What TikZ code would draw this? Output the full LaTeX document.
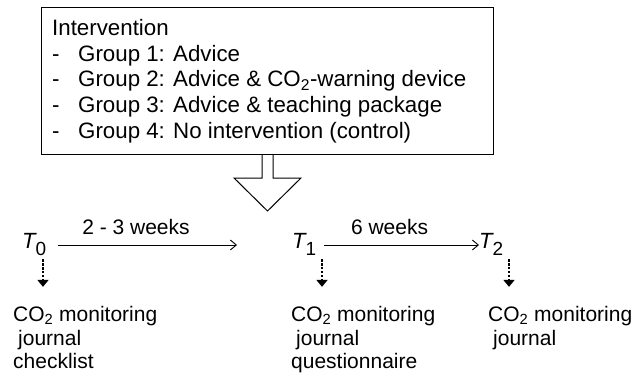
\documentclass[tikz,border=0pt]{standalone}
\usepackage{fontspec}
\setmainfont{Liberation Sans}
\usetikzlibrary{arrows.meta,positioning}

\begin{document}
\begin{tikzpicture}[x=1pt,y=-1pt,
  txt/.style={inner sep=0pt,font=\fontsize{21}{25.7}\selectfont},
  btxt/.style={inner sep=0pt,anchor=base west,font=\fontsize{22.3}{25.7}\selectfont},
  mtxt/.style={inner sep=0pt,anchor=base west,font=\fontsize{21}{23.5}\selectfont},
  tlbl/.style={inner sep=0pt,anchor=base west},
  tarr/.style={-{Straight Barb[length=6pt,width=10pt]},line width=0.9pt},
  dotarr/.style={-{Triangle[length=7pt,width=11pt]},line width=2.4pt,dash pattern=on 2.4pt off 1.5pt}]
\useasboundingbox (0,0) rectangle (644,374);
% Intervention box
\node[draw,line width=1pt,minimum width=452pt,minimum height=147pt,anchor=north west,inner sep=0pt] (box) at (41,7) {};
\node[btxt] (intv) at (52,35.5) {Intervention};
\foreach \i/\txt in {1/Advice,2/{Advice \& CO\textsubscript{2}-warning device},3/{Advice \& teaching package},4/{No intervention (control)}} {
  \node[btxt] (d\i) at (52,{35.5+25.7*\i}) {-};
  \node[btxt] (g\i) at (78,{35.5+25.7*\i}) {Group \i: \txt};
}
% Block arrow down
\draw[line width=1pt] (box.south) +(-5.5,0) -- +(-5.5,23) -- +(-33.5,23) -- +(0,56) -- +(33.5,23) -- +(5.5,23) -- +(5.5,0);
% Time points
\foreach \i/\x in {0/22,1/292,2/479}
  \node[tlbl] (T\i) at (\x,248) {{\fontsize{22}{22}\selectfont\itshape T}\raisebox{-7.5pt}{\fontsize{19}{19}\selectfont\i}};
\coordinate (e1) at (237,245);
\draw[tarr,shorten <=12pt] (T0.east |- e1) -- node[txt,above=10pt,pos=.47] {2 - 3 weeks} (e1);
\draw[tarr,shorten <=8pt] (T1.east |- e1) -- node[txt,above=10pt,pos=.45] {6 weeks} (T2.west |- e1);
% Measurements
\node[mtxt] (m0) at (13,321.5) {\begin{tabular}[t]{@{}l@{}}CO\textsubscript{2} monitoring\\\hspace*{5pt}journal\\checklist\end{tabular}};
\node[mtxt] (m1) at (291,321.5) {\begin{tabular}[t]{@{}l@{}}CO\textsubscript{2} monitoring\\\hspace*{5pt}journal\\questionnaire\end{tabular}};
\node[mtxt] (m2) at (488,321.5) {\begin{tabular}[t]{@{}l@{}}CO\textsubscript{2} monitoring\\\hspace*{5pt}journal\end{tabular}};
\foreach \i/\x in {0/43,1/322,2/509}
  \draw[dotarr,shorten <=3.5pt,shorten >=18pt] (T\i.south -| \x,0) -- (m\i.north -| \x,0);
\end{tikzpicture}
\end{document}
